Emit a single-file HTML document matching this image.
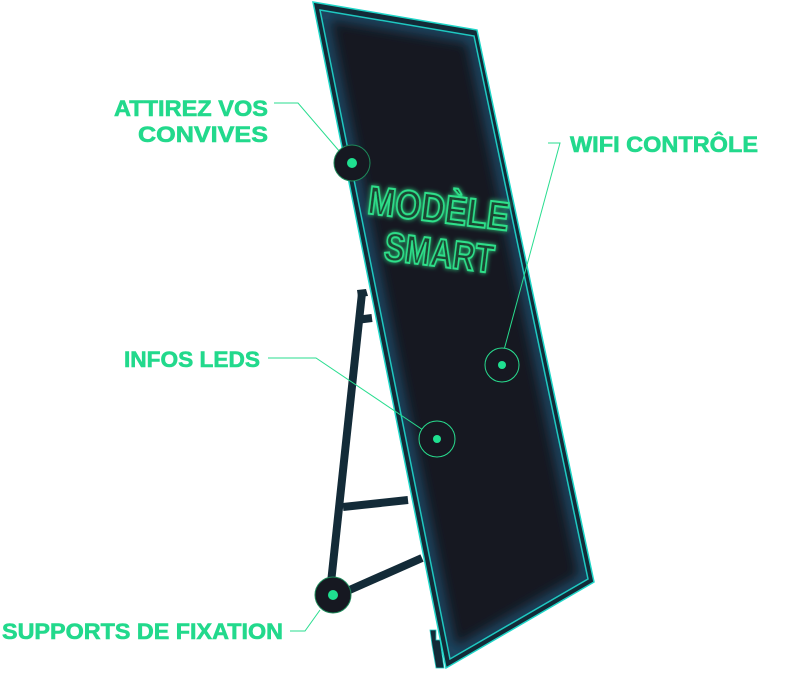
<!DOCTYPE html>
<html><head><meta charset="utf-8"><style>
html,body{margin:0;padding:0;background:#fff;width:809px;height:692px;overflow:hidden}
svg{display:block}
text{font-family:"Liberation Sans",sans-serif;font-weight:bold}
</style></head><body>
<svg width="809" height="692" viewBox="0 0 809 692" xmlns="http://www.w3.org/2000/svg">
<defs>
<filter id="gl" x="-20%" y="-20%" width="140%" height="140%"><feGaussianBlur stdDeviation="2.5" result="b"/><feMerge><feMergeNode in="b"/><feMergeNode in="SourceGraphic"/></feMerge></filter>
<filter id="eg" x="-10%" y="-10%" width="120%" height="120%"><feGaussianBlur stdDeviation="6"/></filter>
<clipPath id="ic"><path d="M320 10 L474 36 L588 579 L450 659 Z"/></clipPath>
</defs>
<!-- stand -->
<g stroke="#132b38" stroke-width="8" fill="none">
<line x1="362" y1="293" x2="330" y2="592"/>
<line x1="356" y1="320" x2="372" y2="318"/>
<line x1="343" y1="507" x2="408" y2="500"/>
<line x1="345" y1="592" x2="422" y2="558"/>
</g>
<path d="M357 290 L366 289 L368 296 L358 297Z" fill="#132b38"/>
<path d="M430 630 L436 630 L436 640 L440 640 L444 668 L436 668 L432 645Z" fill="#132b38" stroke="#1ec8c0" stroke-width="0.8"/>
<!-- panel -->
<path d="M313 2 L477 30 L594 582 L446 668 Z" fill="#132b38" stroke="#1fd6c8" stroke-width="1.5"/>
<path d="M320 10 L474 36 L588 579 L450 659 Z" fill="#161821"/>
<g clip-path="url(#ic)"><path d="M320 10 L474 36 L588 579 L450 659 Z" fill="none" stroke="#1a4a66" stroke-width="14" filter="url(#eg)"/></g>
<path d="M320 10 L474 36 L588 579 L450 659 Z" fill="none" stroke="#1fc8c0" stroke-width="1.5"/>
<!-- title -->
<g transform="translate(437,222) rotate(7)" filter="url(#gl)">
<text x="0" y="0" text-anchor="middle" font-size="40" fill="#1f4532" stroke="#2de08a" stroke-width="2" textLength="142" lengthAdjust="spacingAndGlyphs">MODÈLE</text>
<text x="6" y="44" text-anchor="middle" font-size="40" fill="#1f4532" stroke="#2de08a" stroke-width="2" textLength="110" lengthAdjust="spacingAndGlyphs">SMART</text>
</g>
<!-- connectors -->
<g stroke="#28dd8f" stroke-width="1" fill="none">
<polyline points="274,103 298,103 340,152"/>
<polyline points="548,143 560,143 504,350"/>
<polyline points="268,358 316,358 426,432"/>
<polyline points="290,631 305,631 320,610"/>
</g>
<!-- markers -->
<circle cx="352" cy="163" r="18" fill="#161821" stroke="#1d8a5a" stroke-width="1"/>
<circle cx="352" cy="163" r="5" fill="#1fe090"/>
<circle cx="502" cy="365" r="17" fill="#161821" stroke="#28dd8f" stroke-width="1"/>
<circle cx="502" cy="365" r="4" fill="#1fe090"/>
<circle cx="437" cy="439" r="18" fill="#161821" stroke="#28dd8f" stroke-width="1"/>
<circle cx="437" cy="439" r="4" fill="#1fe090"/>
<circle cx="333" cy="595" r="18" fill="#161821" stroke="#1d8a5a" stroke-width="1"/>
<circle cx="333" cy="595" r="5" fill="#1fe090"/>
<!-- labels -->
<g fill="#22d98c" font-size="22" stroke="#22d98c" stroke-width="0.6">
<text x="268" y="116" text-anchor="end" textLength="154" lengthAdjust="spacingAndGlyphs">ATTIREZ VOS</text>
<text x="268" y="142" text-anchor="end" textLength="130" lengthAdjust="spacingAndGlyphs">CONVIVES</text>
<text x="570" y="152" textLength="188" lengthAdjust="spacingAndGlyphs">WIFI CONTRÔLE</text>
<text x="260" y="367" text-anchor="end" textLength="136" lengthAdjust="spacingAndGlyphs">INFOS LEDS</text>
<text x="2" y="639" textLength="281" lengthAdjust="spacingAndGlyphs">SUPPORTS DE FIXATION</text>
</g>
</svg>
</body></html>
